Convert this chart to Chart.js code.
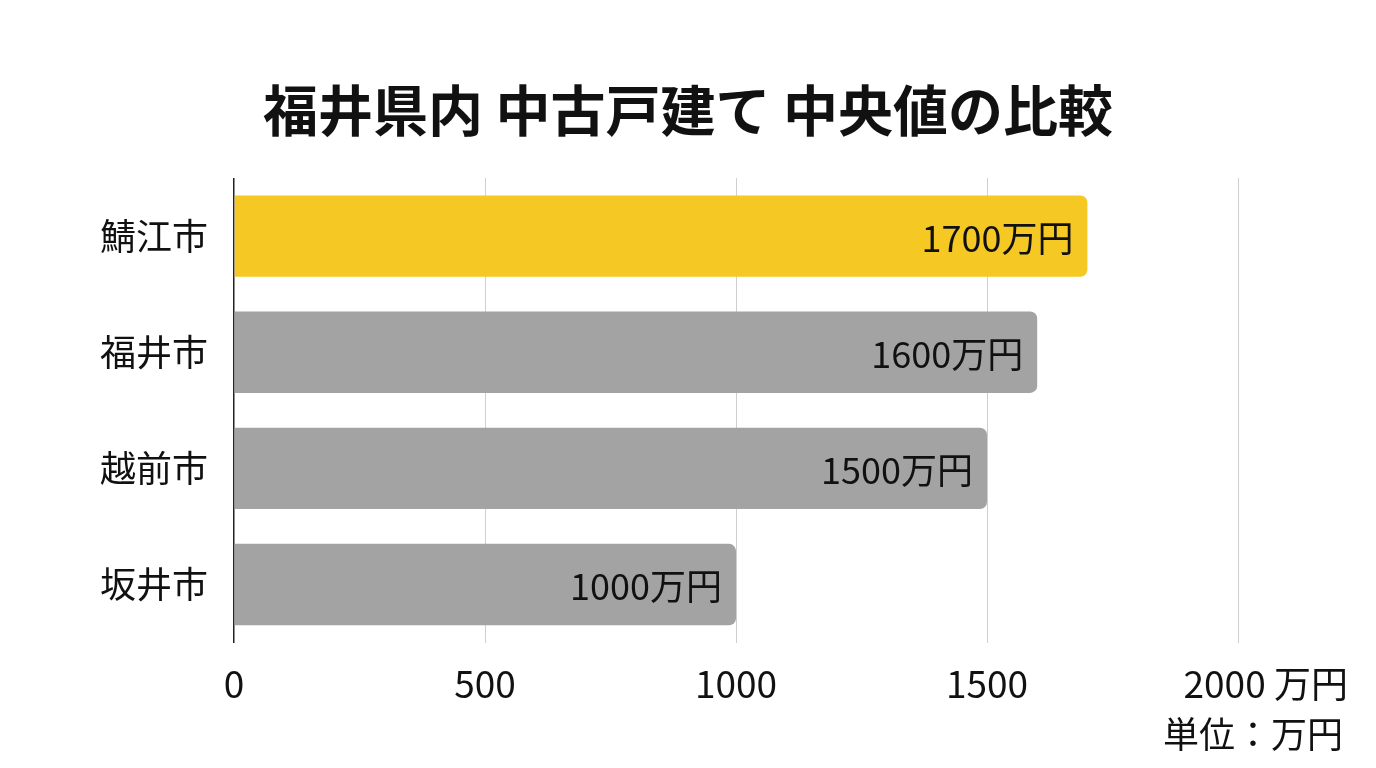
<!DOCTYPE html>
<html lang="ja">
<head>
<meta charset="utf-8">
<script src="https://cdn.jsdelivr.net/npm/chart.js@4"></script>
<style>
    html, body {
        margin: 0;
        padding: 0;
        background: #ffffff;
    }

    #wrap {
        width: 1376px;
        height: 768px;
    }
</style>
</head>
<body>
<div id="wrap"><canvas id="chart"></canvas></div>
<script>
// Data
const cities = ['鯖江市', '福井市', '越前市', '坂井市']
const medianPrices = [1700, 1600, 1500, 1000]
const xTicks = [0, 500, 1000, 1500, 2000]
const unit = '万円'

const FONT = "'Noto Sans CJK JP', 'Noto Sans', sans-serif"
const YELLOW = '#f5c823'
const GREY = '#a3a3a3'

// Draws the value inside the end of each bar
const barLabels = {
    id: 'barLabels',
    afterDatasetsDraw(chart) {
        const ctx = chart.ctx
        const meta = chart.getDatasetMeta(0)
        ctx.save()
        ctx.font = '36px ' + FONT
        ctx.fillStyle = '#111111'
        ctx.textAlign = 'right'
        ctx.textBaseline = 'middle'
        meta.data.forEach((bar, i) => {
            ctx.fillText(medianPrices[i] + unit, bar.x - 14, bar.y + 2)
        })
        ctx.restore()
    }
}

// Unit note under the axis, right side
const unitNote = {
    id: 'unitNote',
    afterDraw(chart) {
        const ctx = chart.ctx
        ctx.save()
        ctx.font = '36px ' + FONT
        ctx.fillStyle = '#111111'
        ctx.textAlign = 'right'
        ctx.textBaseline = 'middle'
        ctx.fillText('単位：' + unit, chart.chartArea.right + 105, 734)
        ctx.restore()
    }
}

// Widen the y scale box to the canvas edge so the city names are not clipped
const widenYAxis = {
    id: 'widenYAxis',
    afterLayout(chart) {
        chart.scales.y.left = 0
    }
}

new Chart(document.getElementById('chart'), {
    type: 'bar',
    data: {
        labels: cities,
        datasets: [{
            data: medianPrices,
            backgroundColor: cities.map((c, i) => i === 0 ? YELLOW : GREY),
            borderRadius: 7,
            borderSkipped: 'start',
            barPercentage: 0.7,
            categoryPercentage: 1
        }]
    },
    options: {
        indexAxis: 'y',
        responsive: true,
        maintainAspectRatio: false,
        animation: false,
        events: [],
        layout: {
            // same on both sides so the title sits in the middle of the page
            padding: { left: 138, right: 138, top: 0, bottom: 43 }
        },
        plugins: {
            legend: { display: false },
            tooltip: { enabled: false },
            title: {
                display: true,
                text: '福井県内 中古戸建て 中央値の比較',
                color: '#111111',
                font: { family: FONT, size: 55, weight: 'bold' },
                padding: { top: 77, bottom: 35 }
            }
        },
        scales: {
            x: {
                min: 0,
                max: 2000,
                afterBuildTicks(scale) {
                    scale.ticks = xTicks.map(v => ({ value: v }))
                },
                ticks: {
                    color: '#111111',
                    font: { family: FONT, size: 37 },
                    padding: 19,
                    maxRotation: 0,
                    callback: (v) => v === 2000 ? '\u2003\u2002' + v + ' ' + unit : String(v)
                },
                grid: {
                    color: (c) => c.tick && c.tick.value === 0 ? '#222222' : '#cfcfcf',
                    lineWidth: (c) => c.tick && c.tick.value === 0 ? 1.5 : 1,
                    drawTicks: false
                },
                border: { display: false }
            },
            y: {
                // city names hang into the left padding
                afterFit(scale) {
                    scale.width = 96
                },
                ticks: {
                    color: '#111111',
                    font: { family: FONT, size: 36 },
                    padding: 26
                },
                grid: { display: false, drawTicks: false },
                border: { display: false }
            }
        }
    },
    plugins: [barLabels, unitNote, widenYAxis]
})
</script>
</body>
</html>
